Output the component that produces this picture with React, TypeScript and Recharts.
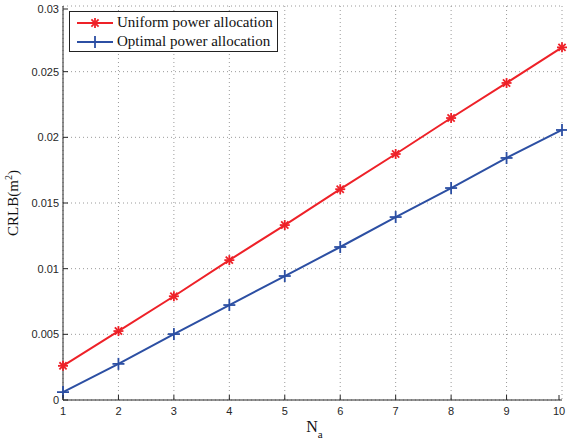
import React from 'react';
import { LineChart, Line, XAxis, YAxis, CartesianGrid, Label } from 'recharts';

const NA = [1, 2, 3, 4, 5, 6, 7, 8, 9, 10];
const UNIFORM = [0.0026, 0.00525, 0.0079, 0.01065, 0.01332, 0.01605, 0.01873, 0.02147, 0.02414, 0.02685];
const OPTIMAL = [0.0006, 0.00275, 0.00502, 0.00723, 0.00944, 0.01165, 0.01393, 0.01614, 0.01843, 0.02056];
const Y_TICKS = [0, 0.005, 0.01, 0.015, 0.02, 0.025, 0.03];
const Y_LABELS = ['0', '0.005', '0.01', '0.015', '0.02', '0.025', '0.03'];

const RED = '#ee2128';
const BLUE = '#2c4fa3';

const data = NA.map((n, i) => ({ n, uniform: UNIFORM[i], optimal: OPTIMAL[i] }));

const tickFont = { fontFamily: 'Liberation Sans, Arial, sans-serif', fontSize: 11, fill: '#262626' };

const Star = ({ cx, cy, color }: any) => (
  <g stroke={color} strokeWidth={1.8}>
    <line x1={cx - 5} y1={cy} x2={cx + 5} y2={cy} />
    <line x1={cx} y1={cy - 5} x2={cx} y2={cy + 5} />
    <line x1={cx - 3.6} y1={cy - 3.6} x2={cx + 3.6} y2={cy + 3.6} />
    <line x1={cx - 3.6} y1={cy + 3.6} x2={cx + 3.6} y2={cy - 3.6} />
  </g>
);

const Plus = ({ cx, cy, color }: any) => (
  <g stroke={color} strokeWidth={1.8}>
    <line x1={cx - 6} y1={cy} x2={cx + 6} y2={cy} />
    <line x1={cx} y1={cy - 6} x2={cx} y2={cy + 6} />
  </g>
);

const BottomTick = ({ x, y, payload }: any) => (
  <g>
    <line x1={x} y1={y} x2={x} y2={y - 5} stroke="#262626" />
    <text x={x} y={y + 15} textAnchor="middle" {...tickFont}>{payload.value}</text>
  </g>
);

const TopTick = ({ x, y }: any) => (
  <line x1={x} y1={y} x2={x} y2={y + 5} stroke="#262626" />
);

const LeftTick = ({ x, y, payload, index }: any) => (
  <g>
    <line x1={x} y1={y} x2={x + 5} y2={y} stroke="#262626" />
    <text x={x - 4} y={y + 4} textAnchor="end" {...tickFont}>{Y_LABELS[index] ?? payload.value}</text>
  </g>
);

const RightTick = ({ x, y }: any) => (
  <line x1={x} y1={y} x2={x - 5} y2={y} stroke="#262626" />
);

const LegendBox = () => (
  <div
    style={{
      position: 'absolute',
      left: 69,
      top: 11,
      width: 209,
      height: 41,
      border: '1px solid #222',
      background: '#fff',
      boxSizing: 'border-box',
      fontFamily: 'Liberation Serif, Times New Roman, serif',
      fontSize: 15,
      color: '#111',
      padding: '1px 0 0 5px',
    }}
  >
    {[
      { name: 'Uniform power allocation', color: RED, M: Star },
      { name: 'Optimal power allocation', color: BLUE, M: Plus },
    ].map(({ name, color, M }) => (
      <div key={name} style={{ display: 'flex', alignItems: 'center', height: 19 }}>
        <svg width={40} height={18}>
          <line x1={2} y1={9} x2={38} y2={9} stroke={color} strokeWidth={2} />
          <M cx={20} cy={9} color={color} />
        </svg>
        <span style={{ marginLeft: 2 }}>{name}</span>
      </div>
    ))}
  </div>
);

const YLabel = ({ viewBox }: any) => {
  const cx = 18;
  const cy = viewBox.y + viewBox.height / 2;
  return (
    <text
      x={cx}
      y={cy}
      transform={`rotate(-90 ${cx} ${cy})`}
      textAnchor="middle"
      fontFamily="Liberation Serif, Times New Roman, serif"
      fontSize={15}
      fill="#111"
    >
      CRLB(m<tspan dy={-6} fontSize={10}>2</tspan><tspan dy={6}>)</tspan>
    </text>
  );
};

const XLabel = ({ viewBox }: any) => {
  const cx = viewBox.x + viewBox.width / 2 + 2;
  return (
    <text
      x={cx}
      y={432}
      textAnchor="middle"
      fontFamily="Liberation Serif, Times New Roman, serif"
      fontSize={16}
      fill="#111"
    >
      N<tspan dy={6} fontSize={11}>a</tspan>
    </text>
  );
};

export default function App() {
  return (
    <div style={{ position: 'absolute', left: 0, top: 0, width: 567, height: 445, background: '#fff' }}>
      <LineChart width={567} height={445} data={data} margin={{ top: 6, right: 5, bottom: 0, left: 0 }}>
        <CartesianGrid stroke="#9a9a9a" strokeDasharray="1 3" />
        <XAxis
          dataKey="n"
          type="number"
          domain={[1, 10]}
          ticks={NA}
          stroke="#262626"
          tickLine={false}
          tickSize={0}
          tickMargin={0}
          tick={<BottomTick />}
          height={45}
        >
          <Label content={<XLabel />} />
        </XAxis>
        <XAxis
          xAxisId="top"
          orientation="top"
          dataKey="n"
          type="number"
          domain={[1, 10]}
          ticks={NA}
          stroke="#262626"
          tickLine={false}
          tickSize={0}
          tickMargin={0}
          tick={<TopTick />}
          height={0}
        />
        <YAxis
          type="number"
          domain={[0, 0.03]}
          ticks={Y_TICKS}
          stroke="#262626"
          tickLine={false}
          tickSize={0}
          tickMargin={0}
          tick={<LeftTick />}
          width={63}
        >
          <Label content={<YLabel />} />
        </YAxis>
        <YAxis
          yAxisId="right"
          orientation="right"
          type="number"
          domain={[0, 0.03]}
          ticks={Y_TICKS}
          stroke="#262626"
          tickLine={false}
          tickSize={0}
          tickMargin={0}
          tick={<RightTick />}
          width={0}
        />
        <Line
          dataKey="uniform"
          name="Uniform power allocation"
          stroke={RED}
          strokeWidth={2}
          dot={(p: any) => <Star key={p.index} cx={p.cx} cy={p.cy} color={RED} />}
          isAnimationActive={false}
        />
        <Line
          dataKey="optimal"
          name="Optimal power allocation"
          stroke={BLUE}
          strokeWidth={2}
          dot={(p: any) => <Plus key={p.index} cx={p.cx} cy={p.cy} color={BLUE} />}
          isAnimationActive={false}
        />
      </LineChart>
      <LegendBox />
    </div>
  );
}
